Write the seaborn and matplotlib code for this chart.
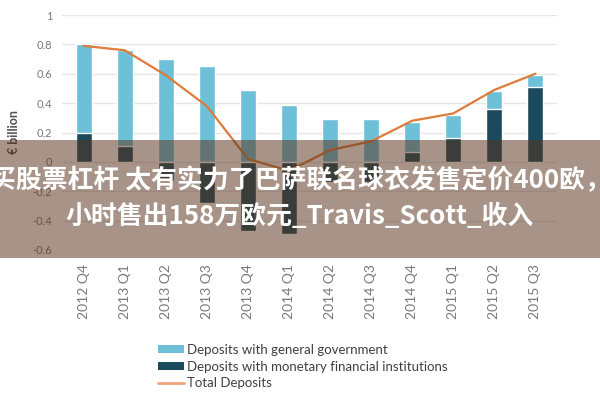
import numpy as np
import pandas as pd
import matplotlib
matplotlib.use("Agg")
import matplotlib.pyplot as plt
from matplotlib.patches import Rectangle, Patch
from matplotlib.lines import Line2D
import seaborn as sns

quarters = ["2012 Q4", "2013 Q1", "2013 Q2", "2013 Q3", "2013 Q4", "2014 Q1",
            "2014 Q2", "2014 Q3", "2014 Q4", "2015 Q1", "2015 Q2", "2015 Q3"]
gov = [0.60, 0.65, 0.70, 0.65, 0.49, 0.39, 0.29, 0.29, 0.20, 0.16, 0.12, 0.08]
mfi = [0.20, 0.11, -0.13, -0.28, -0.47, -0.49, -0.14, -0.14, 0.07, 0.16, 0.36, 0.51]
total = [0.79, 0.76, 0.59, 0.38, 0.02, -0.06, 0.08, 0.14, 0.28, 0.33, 0.49, 0.60]

legend_labels = ["Deposits with general government",
                 "Deposits with monetary financial institutions",
                 "Total Deposits"]
banner_line1 = "买股票杠杆 太有实力了巴萨联名球衣发售定价400欧，"
banner_line2 = "小时售出158万欧元_Travis_Scott_收入"

sns.set_theme(style="white")
plt.rcParams['font.family'] = ['Lato', 'DejaVu Sans']

c_light = "#6ec0d8"
c_dark = "#1b4a5c"
c_line = "#e07b39"
c_tick = "#7a7a7a"

df = pd.DataFrame({"q": quarters, "gov": gov, "mfi": mfi, "total": total})
df["light_top"] = df["gov"] + df["mfi"].clip(lower=0)

fig = plt.figure(figsize=(6, 4), dpi=100)
ax = fig.add_axes([0.103, 0.375, 0.825, 0.5875])

sns.barplot(data=df, x="q", y="light_top", color=c_light, width=0.39,
            saturation=1, ax=ax, zorder=2)
sns.barplot(data=df, x="q", y="mfi", color=c_dark, width=0.39,
            saturation=1, ax=ax, zorder=3)
sns.lineplot(x=np.arange(len(quarters)), y=df["total"].values, color=c_line,
             linewidth=1.6, ax=ax, zorder=4)

ax.set_ylim(-0.6, 1.0)
ax.set_xlim(-0.53, 11.52)
ax.set_yticks(np.arange(-0.6, 1.01, 0.2))
ax.set_yticklabels(["-0.6", "-0.4", "-0.2", "0", "0.2", "0.4", "0.6", "0.8", "1"])
ax.yaxis.grid(True, color="#e6e6e6", linewidth=1.0, zorder=0)
ax.set_axisbelow(True)
for s in ax.spines.values():
    s.set_visible(False)
ax.tick_params(axis="both", length=0, colors=c_tick, labelsize=8)
ax.tick_params(axis="y", pad=7)
ax.tick_params(axis="x", pad=10)
for lbl in ax.get_xticklabels():
    lbl.set_rotation(90)
    lbl.set_fontsize(10)
ax.set_xlabel("")
ax.set_ylabel("€ billion", fontsize=9, fontweight="bold", color="#505050", labelpad=9)

handles = [Patch(facecolor=c_light, edgecolor="none"),
           Patch(facecolor=c_dark, edgecolor="none"),
           Line2D([0], [0], color="#f0a27a", linewidth=2)]
fig.legend(handles, legend_labels, loc="upper left", bbox_to_anchor=(0.255, 0.153),
           frameon=False, fontsize=9.5, handlelength=1.95, handleheight=0.55,
           handletextpad=0.2, labelspacing=0.35, labelcolor="#404040",
           borderaxespad=0)

# overlay banner
fig.patches.append(Rectangle((0, 0.355), 1, 0.295, transform=fig.transFigure,
                             facecolor="#59331c", alpha=0.53, edgecolor="none",
                             zorder=10))
cjk = ['Noto Sans CJK SC', 'DejaVu Sans']
fig.text(0.5, 0.5475, banner_line1, ha="center", va="center", color="white",
         fontsize=18.6, fontweight="bold", family=cjk, zorder=11)
fig.text(0.5, 0.4575, banner_line2, ha="center", va="center", color="white",
         fontsize=18.6, fontweight="bold", family=cjk, zorder=11)

fig.savefig("out.png", dpi=100)
